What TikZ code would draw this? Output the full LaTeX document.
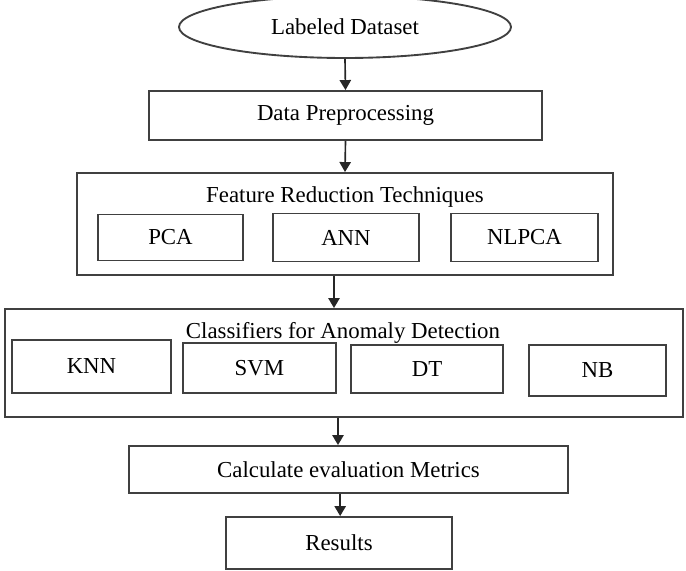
\documentclass[tikz,border=0pt]{standalone}
\usepackage{fontspec}
\setmainfont{Liberation Serif}
\usetikzlibrary{arrows.meta,shapes.geometric}
\begin{document}
\begin{tikzpicture}[x=0.03cm, y=-0.03cm,
  box/.style={draw=black!75, line width=1.6pt, rectangle, inner sep=0pt, font=\fontsize{19.5}{22}\selectfont},
  frame/.style={draw=black!75, line width=1.6pt, rectangle, inner sep=0pt},
  titel/.style={font=\fontsize{19.5}{22}\selectfont},
  pfeil/.style={line width=1.4pt, black!85, -{Triangle[width=0.34cm,length=0.3cm]}}]
  \useasboundingbox (0,0) rectangle (686,571);
  \node[ellipse, draw=black!75, line width=1.6pt, minimum width=9.96cm, minimum height=1.86cm,
        font=\fontsize{19.5}{22}\selectfont] (daten) at (345,27) {Labeled Dataset};
  \node[box, minimum width=11.79cm, minimum height=1.47cm] (prep) at (345.5,115.5) {Data Preprocessing};
  % feature reduction
  \node[frame, minimum width=16.08cm, minimum height=3.06cm] (feat) at (345,224) {};
  \node[titel] (feattitel) at (345,197) {Feature Reduction Techniques};
  \node[box, minimum width=4.35cm, minimum height=1.38cm] (pca) at (170.5,237.5) {PCA};
  \node[box, minimum width=4.38cm, minimum height=1.44cm] (ann) at (346,237.5) {ANN};
  \node[box, minimum width=4.41cm, minimum height=1.44cm] (nlpca) at (524.5,237.5) {NLPCA};
  % classifiers
  \node[frame, minimum width=20.34cm, minimum height=3.24cm] (cls) at (344,363) {};
  \node[titel] (clstitel) at (343,333) {Classifiers for Anomaly Detection};
  \node[box, minimum width=4.77cm, minimum height=1.59cm] (knn) at (91.5,366.5) {KNN};
  \node[box, minimum width=4.59cm, minimum height=1.5cm] (svm) at (259.5,368) {SVM};
  \node[box, minimum width=4.56cm, minimum height=1.44cm] (dt) at (427,369) {DT};
  \node[box, minimum width=4.11cm, minimum height=1.53cm] (nb) at (597.5,370.5) {NB};
  \node[box, minimum width=13.17cm, minimum height=1.41cm] (calc) at (348.5,469.5) {Calculate evaluation Metrics};
  \node[box, minimum width=6.78cm, minimum height=1.56cm] (res) at (339,543) {Results};
  % arrows
  \draw[pfeil] (daten.south) -- (prep.north);
  \draw[pfeil] (prep.south) -- (feat.north);
  \draw[pfeil] ([xshift=-0.33cm]feat.south) -- ([xshift=-0.33cm]feat.south |- cls.north);
  \draw[pfeil] ([xshift=-0.18cm]cls.south) -- ([xshift=-0.18cm]cls.south |- calc.north);
  \draw[pfeil] ([xshift=-0.25cm]calc.south) -- ([xshift=-0.25cm]calc.south |- res.north);
\end{tikzpicture}
\end{document}
